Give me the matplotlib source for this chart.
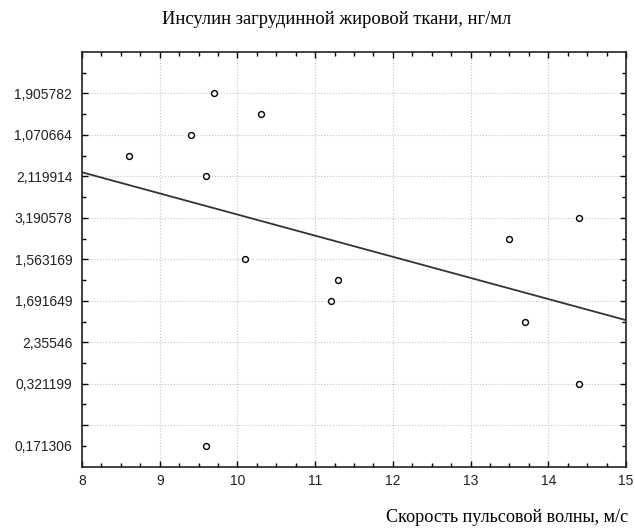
import numpy as np
import matplotlib as mpl
mpl.use('Agg')
import matplotlib.pyplot as plt
import matplotlib.ticker as mticker

# pulse wave velocity, m/s
speed = [8.6, 9.4, 9.7, 9.6, 10.3, 10.1, 11.3, 11.2, 13.5, 14.4, 13.7, 14.4, 9.6]
# insulin, position on the (rank-like) y scale
insulin = [7.5, 8.0, 9.0, 7.0, 8.5, 5.0, 4.5, 4.0, 5.5, 6.0, 3.5, 2.0, 0.5]

ytick_pos = [1, 2, 3, 4, 5, 6, 7, 8, 9]
ytick_labels = ["", "0,321199", "2,35546", "1,691649", "1,563169",
                "3,190578", "2,119914", "1,070664", "1,905782"]
extra_label = "0,171306"   # sits at the minor tick 0.5

coef = np.polyfit(speed, insulin, 1)
xfit = np.array([8, 15])

fig = plt.figure(figsize=(6.35, 5.28), dpi=100)
ax = fig.add_axes([82/635, 1 - 466.7/528, (626-82)/635, (466.7-52)/528])

ax.plot(xfit, np.polyval(coef, xfit), color="#333333", linewidth=1.3, zorder=3)
ax.scatter(speed, insulin, s=18, facecolors="white", edgecolors="black",
           linewidths=1.0, zorder=4)

ax.set_xlim(8, 15)
ax.set_ylim(0, 10)
ax.set_xticks(range(8, 16))
ax.xaxis.set_minor_locator(mticker.MultipleLocator(0.25))
ax.set_yticks(ytick_pos, ytick_labels)
minor_y = np.arange(0.5, 10, 1.0)
ax.set_yticks(minor_y, minor=True)
ax.yaxis.set_minor_formatter(mticker.FixedFormatter([extra_label] + [""] * (len(minor_y) - 1)))

for lab in ax.get_xticklabels() + ax.get_yticklabels() + ax.get_yticklabels(minor=True):
    lab.set_fontfamily("Liberation Sans")
    lab.set_fontsize(10)
    lab.set_color("#222222")

ax.tick_params(which="both", direction="in", top=True, right=True, width=1)
ax.tick_params(which="major", length=4)
ax.tick_params(which="minor", length=3)
ax.tick_params(axis="y", which="both", pad=7)
ax.tick_params(axis="x", which="both", pad=5)

ax.grid(True, which="major", color="#c4c4c4", linestyle=":", linewidth=0.8)
for sp in ax.spines.values():
    sp.set_linewidth(1.2)
    sp.set_color("#222222")

fig.text(337/635, 1 - 20/528, "Инсулин загрудинной жировой ткани, нг/мл",
         ha="center", va="center", fontfamily="Liberation Serif", fontsize=13.3)
fig.text(628/635, 1 - 517/528, "Скорость пульсовой волны, м/с",
         ha="right", va="center", fontfamily="Liberation Serif", fontsize=13.1)

fig.savefig("out.png", dpi=100)
